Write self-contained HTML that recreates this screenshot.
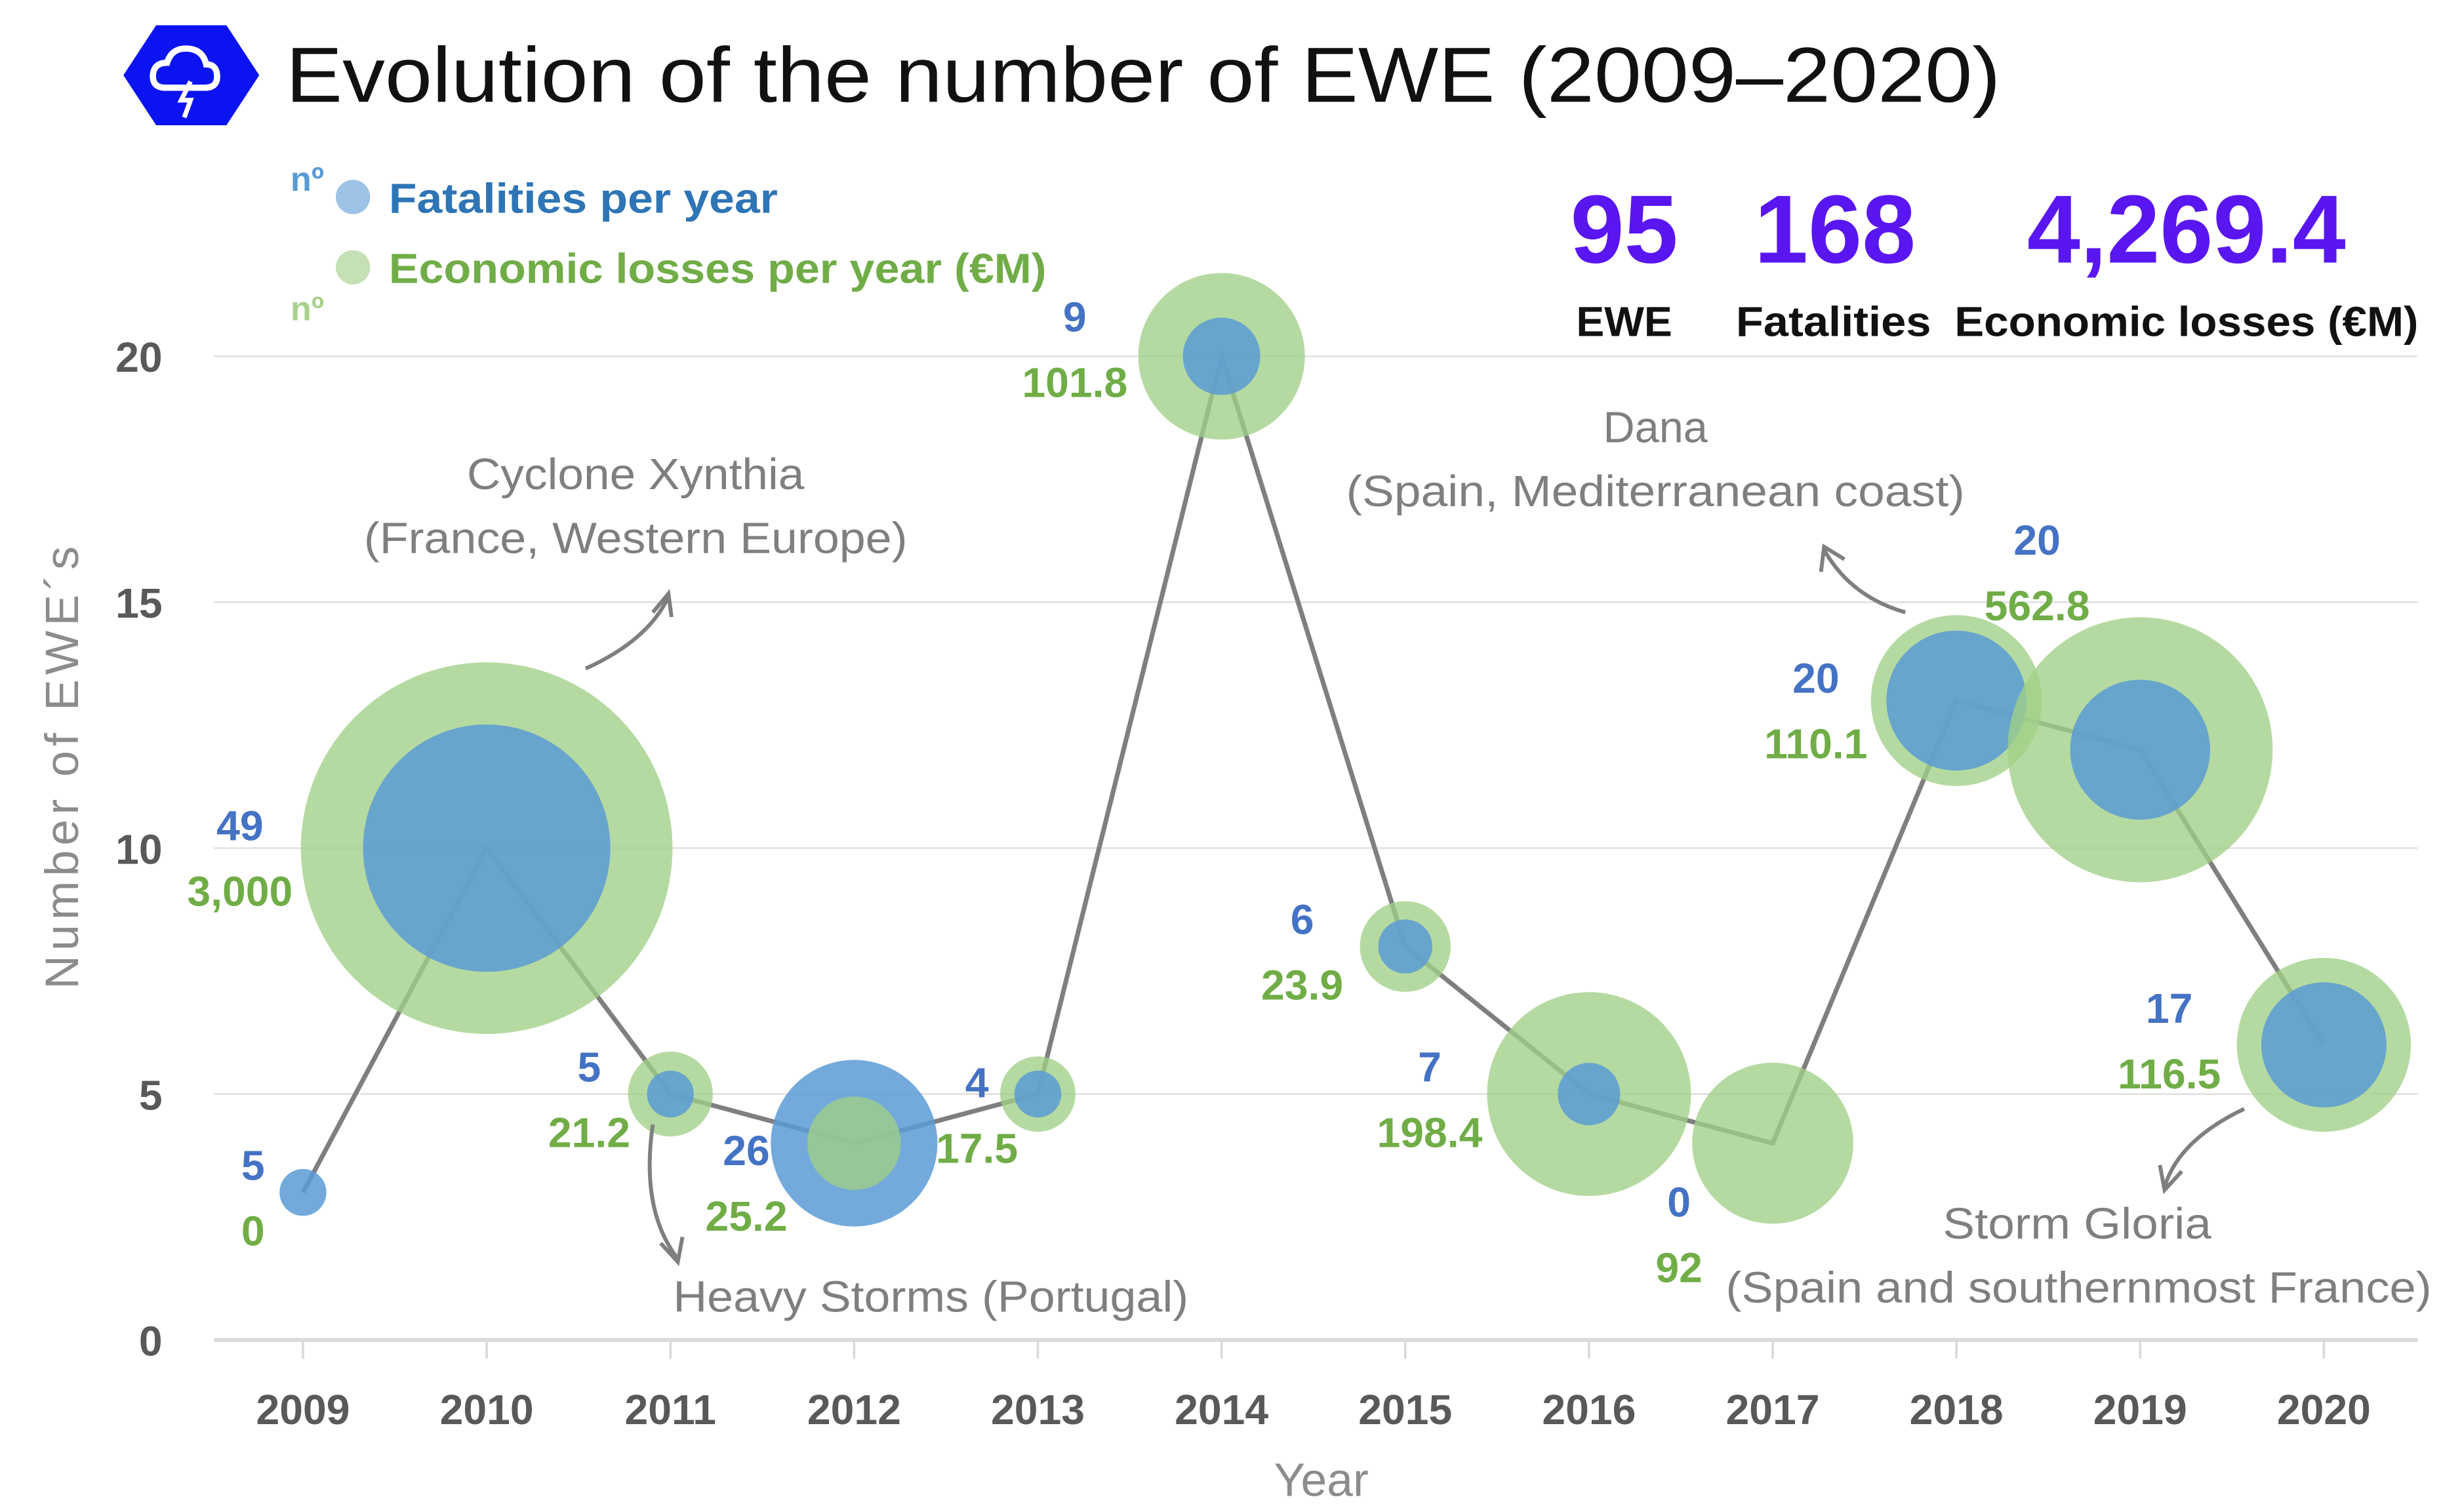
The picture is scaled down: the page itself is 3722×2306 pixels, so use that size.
<!DOCTYPE html>
<html><head><meta charset="utf-8"><style>
html,body{margin:0;padding:0;background:#fff;}
svg{display:block;font-family:"Liberation Sans Narrow","Liberation Sans",sans-serif;}
</style></head><body>
<svg id="chart" width="3722" height="2306" viewBox="0 0 1563 968" xmlns="http://www.w3.org/2000/svg">
<g>
  <polygon points="100,16 145,16 166,48 145,80 100,80 79,48" fill="#0b14f0"/>
  <path d="M106,56 q-9,0 -8,-9 q1,-7 9,-7 q3,-10 14,-9 q9,1 11,10 q7,0 7,8 q0,7 -8,7 z" fill="none" stroke="#fff" stroke-width="4"/>
  <path d="M122,52 l-6,12 h6 l-4,11" fill="none" stroke="#fff" stroke-width="3"/>
  <text x="183" y="65" font-size="50" fill="#111" textLength="1098" lengthAdjust="spacingAndGlyphs">Evolution of the number of EWE (2009–2020)</text>
</g>
<g>
  <text x="186" y="122" font-size="22" font-weight="bold" fill="#5b9bd5">nº</text>
  <circle cx="226" cy="126" r="11" fill="#9dc3e6"/>
  <text x="249" y="136" font-size="27" font-weight="bold" fill="#2e75b6" textLength="249" lengthAdjust="spacingAndGlyphs">Fatalities per year</text>
  <circle cx="226" cy="171" r="11" fill="#c5e0b4"/>
  <text x="249" y="181" font-size="27" font-weight="bold" fill="#70ad47" textLength="421" lengthAdjust="spacingAndGlyphs">Economic losses per year (€M)</text>
  <text x="186" y="205" font-size="22" font-weight="bold" fill="#a9d18e">nº</text>
</g>
<g font-weight="bold" text-anchor="middle">
  <text x="1040" y="168" font-size="62" fill="#5a16f0">95</text>
  <text x="1175" y="168" font-size="62" fill="#5a16f0">168</text>
  <text x="1400" y="168" font-size="62" fill="#5a16f0" textLength="204" lengthAdjust="spacingAndGlyphs">4,269.4</text>
  <text x="1040" y="215" font-size="27" fill="#111">EWE</text>
  <text x="1174" y="215" font-size="27" fill="#111" textLength="125" lengthAdjust="spacingAndGlyphs">Fatalities</text>
  <text x="1400" y="215" font-size="27" fill="#111" textLength="297" lengthAdjust="spacingAndGlyphs">Economic losses (€M)</text>
</g>
<g id="grid"></g>
<g id="axes"></g>
<g id="series"></g>
<g id="labels"></g>
<g font-size="28" fill="#7f7f7f">
  <text x="407" y="313" text-anchor="middle" textLength="216" lengthAdjust="spacingAndGlyphs">Cyclone Xynthia</text>
  <text x="407" y="354" text-anchor="middle" textLength="348" lengthAdjust="spacingAndGlyphs">(France, Western Europe)</text>
  <text x="1060" y="283" text-anchor="middle">Dana</text>
  <text x="1060" y="324" text-anchor="middle" textLength="396" lengthAdjust="spacingAndGlyphs">(Spain, Mediterranean coast)</text>
  <text x="431" y="840" textLength="330" lengthAdjust="spacingAndGlyphs">Heavy Storms (Portugal)</text>
  <text x="1330" y="793" text-anchor="middle" textLength="172" lengthAdjust="spacingAndGlyphs">Storm Gloria</text>
  <text x="1105" y="834" textLength="452" lengthAdjust="spacingAndGlyphs">(Spain and southernmost France)</text>
  <g fill="none" stroke="#7f7f7f" stroke-width="2.5">
    <path d="M375,428 Q415,410 428,382 M418,392 L428,380 L430,395"/>
    <path d="M1220,392 Q1185,382 1168,352 M1166,366 L1168,350 L1181,358"/>
    <path d="M418,720 Q410,775 434,806 M423,796 L434,808 L437,792"/>
    <path d="M1437,710 Q1395,730 1386,760 M1383,746 L1386,762 L1397,750"/>
  </g>
</g>
</svg>
<script>
const years = ['2009','2010','2011','2012','2013','2014','2015','2016','2017','2018','2019','2020'];
const eweCounts = [3,10,5,4,5,20,8,5,4,13,12,6];
const fatalities = [5,49,5,26,4,9,6,7,0,20,20,17];
const losses = [0,3000,21.2,25.2,17.5,101.8,23.9,198.4,92,110.1,562.8,116.5];
const lossLabels = ['0','3,000','21.2','25.2','17.5','101.8','23.9','198.4','92','110.1','562.8','116.5'];
const yTicks = [0,5,10,15,20];
// label offsets (layout only)
const labelDX = [-32,-158,-52,-69,-39,-94,-66,-102,-60,-90,-66,-99];
const labelDY = [-8,-5,-8,14,2,-16,-8,-8,47,-5,-125,-14];

const NS='http://www.w3.org/2000/svg';
const X0=194, XSTEP=(1488-194)/11, Y0=858, YUNIT=(858-228)/20;
const xs = i => X0 + i*XSTEP;
const ys = v => Y0 - v*YUNIT;
const rBlue = v => v>0 ? Math.max(15, -16 + 13.6*Math.sqrt(v)) : 0;
const rGreen = v => v>0 ? Math.max(20, 221*Math.pow(v,0.06) - 238.3) : 0;
function mk(tag, attrs, parent){const e=document.createElementNS(NS,tag);for(const k in attrs)e.setAttribute(k,attrs[k]);parent.appendChild(e);return e;}

const grid=document.getElementById('grid'), axes=document.getElementById('axes'), series=document.getElementById('series'), labels=document.getElementById('labels');
yTicks.forEach(t=>{
  const l=mk('line',{x1:137,x2:1548,y1:ys(t),y2:ys(t),stroke:t===0?'#d9d9d9':'#e3e3e3','stroke-width':t===0?2.5:1.2},grid);
  
  
  const tx=mk('text',{x:104,y:ys(t)+10,'text-anchor':'end','font-size':27,'font-weight':'bold',fill:'#595959'},axes);
  tx.textContent=t;
  
  
});
years.forEach((y,i)=>{
  const tk=mk('line',{x1:xs(i),x2:xs(i),y1:Y0,y2:Y0+12,stroke:'#d9d9d9','stroke-width':1.5},axes);
  
  
  const tx=mk('text',{x:xs(i),y:912,'text-anchor':'middle','font-size':27,'font-weight':'bold',fill:'#595959'},axes);
  tx.textContent=y;
  
  
});
const xt=mk('text',{x:846,y:958,'text-anchor':'middle','font-size':30,fill:'#8c8c8c'},axes);
xt.textContent='Year';


const yt=mk('text',{x:0,y:0,'text-anchor':'middle','font-size':30,fill:'#8c8c8c','letter-spacing':'3',transform:'translate(50,490) rotate(-90)'},axes);
yt.textContent='Number   of   EWE´s';



const pts=eweCounts.map((v,i)=>xs(i)+','+ys(v)).join(' ');
const line=mk('polyline',{points:pts,fill:'none',stroke:'#7f7f7f','stroke-width':3},series);



years.forEach((y,i)=>{
  const cx=xs(i), cy=ys(eweCounts[i]);
  const items=[{r:rGreen(losses[i]),fill:'rgba(160,208,135,0.78)',n:'loss-bubble-'+y},{r:rBlue(fatalities[i]),fill:'rgba(91,155,213,0.85)',n:'fatality-bubble-'+y}].filter(d=>d.r>0).sort((a,b)=>b.r-a.r);
  items.forEach(d=>{
    const c=mk('circle',{cx:cx,cy:cy,r:d.r,fill:d.fill},series);
    
    
  });
  const lx=cx+labelDX[i], ly=cy+labelDY[i];
  const b=mk('text',{x:lx,y:ly,'text-anchor':'middle','font-size':27,'font-weight':'bold',fill:'#4472c4'},labels);
  b.textContent=fatalities[i];
  
  
  const g=mk('text',{x:lx,y:ly+42,'text-anchor':'middle','font-size':27,'font-weight':'bold',fill:'#70ad47'},labels);
  g.textContent=lossLabels[i];
  
  
});
</script>
</body></html>
